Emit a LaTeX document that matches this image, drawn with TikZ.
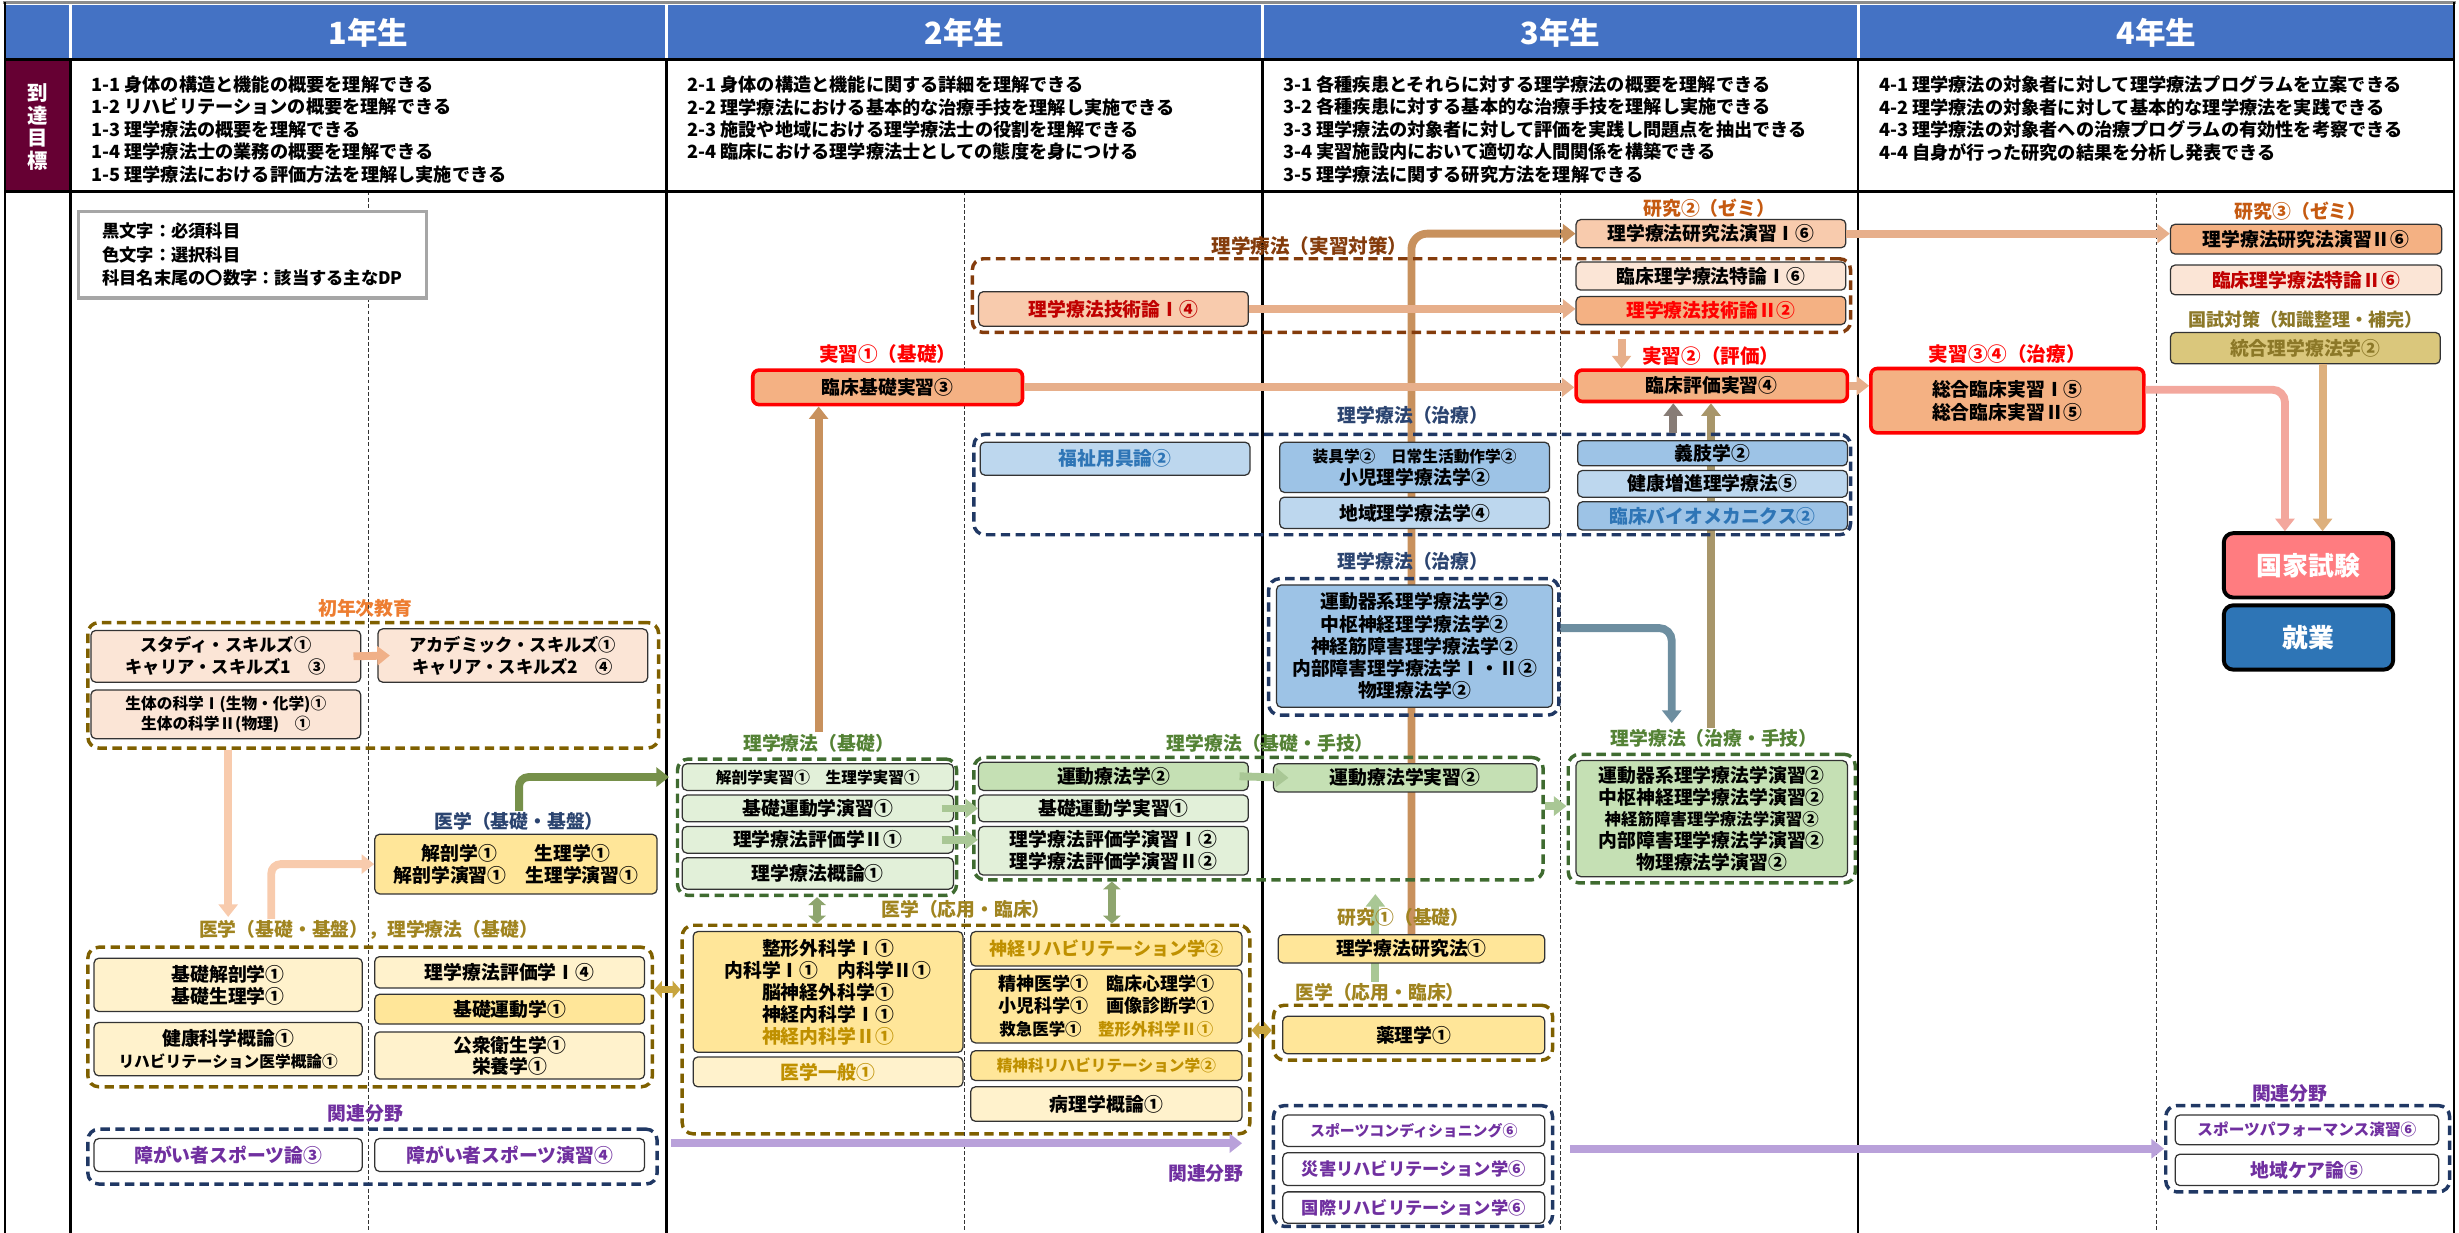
\documentclass[tikz,border=0pt]{standalone}
\usepackage{fontspec}
\setmainfont{Noto Sans CJK JP}
\usetikzlibrary{arrows.meta}
\pgfdeclarelayer{bg}
\pgfsetlayers{bg,main}
\definecolor{cHead}{HTML}{4472C4}
\definecolor{cMaroon}{HTML}{660033}
\definecolor{cPeachS}{HTML}{F4B183}
\definecolor{cPeach}{HTML}{F8CBAD}
\definecolor{cPink}{HTML}{FBE5D6}
\definecolor{cLY}{HTML}{FFF2CC}
\definecolor{cY}{HTML}{FFE699}
\definecolor{cLG}{HTML}{E2F0D9}
\definecolor{cG}{HTML}{C5E0B4}
\definecolor{cLB}{HTML}{BDD7EE}
\definecolor{cB}{HTML}{9DC3E6}
\definecolor{cOlive}{HTML}{7F6000}
\definecolor{cDGreen}{HTML}{3F6B30}
\definecolor{cNavy}{HTML}{203864}
\definecolor{cBrown}{HTML}{843C0C}
\definecolor{cGold}{HTML}{BF9000}
\definecolor{cGoldL}{HTML}{A08420}
\definecolor{cGreenL}{HTML}{548235}
\definecolor{cNavyL}{HTML}{2B4470}
\definecolor{cOrgL}{HTML}{C55A11}
\definecolor{cOrange}{HTML}{ED7D31}
\definecolor{cPurple}{HTML}{7030A0}
\definecolor{cBlueT}{HTML}{2E75B6}
\definecolor{cDarkRed}{HTML}{C00000}
\definecolor{cRed}{HTML}{FF0000}
\definecolor{cKhaki}{HTML}{DAC77C}
\definecolor{cKhakiT}{HTML}{8C7828}
\definecolor{cKokka}{HTML}{FF7C80}
\definecolor{cShugyo}{HTML}{2E75B6}
\definecolor{cLegend}{HTML}{A6A6A6}
\definecolor{aOrangeL}{HTML}{E7AF8B}
\definecolor{aOrangeM}{HTML}{F0B088}
\definecolor{aPeach}{HTML}{F8CBAD}
\definecolor{aTan}{HTML}{C8915D}
\definecolor{aTanG}{HTML}{A8966A}
\definecolor{aGreen}{HTML}{76904A}
\definecolor{aLGreen}{HTML}{A9C795}
\definecolor{aGreenD}{HTML}{8EA56E}
\definecolor{aGoldD}{HTML}{C8A53E}
\definecolor{aPurpleA}{HTML}{B9A1DA}
\definecolor{aBlueBrown}{HTML}{877C76}
\definecolor{aBlueGreen}{HTML}{6D8EA0}
\definecolor{aPink}{HTML}{F3A79D}
\definecolor{aKhPink}{HTML}{DDB07D}
\newcommand\myfs[2]{\fontsize{#1}{#2}\selectfont}
\newcommand\mybox[7][]{\node[box,#1,minimum width={(#5)-(#3)},minimum height={(#6)-(#4)}] (#2) at ({((#3)+(#5))/2},{((#4)+(#6))/2}) {#7};}
\tikzset{
  box/.style={draw=black!80, line width=0.8pt, rounded corners=3pt, align=center, inner sep=0pt, font=\bfseries\myfs{12}{14}},
  fz/.style 2 args={font=\bfseries\myfs{#1}{#2}},
  grp/.style={draw=#1, line width=2.2pt, dash pattern=on 6pt off 3.5pt, rounded corners=7pt, inner sep=0pt},
  lbl/.style={text=#1, font=\bfseries\myfs{12}{14}, inner sep=1pt},
  conn/.style={draw=#1, line width=5pt, -{Triangle[length=8pt,width=12pt]}},
  dconn/.style={draw=#1, line width=5pt, {Triangle[length=5pt,width=11pt]}-{Triangle[length=5pt,width=11pt]}},
  jisshu/.style={box, draw=cRed, line width=2.3pt, fill=cPeachS, rounded corners=4pt},
  final/.style={box, draw=black, line width=2.5pt, rounded corners=6pt, text=white, font=\bfseries\myfs{16.5}{18}},
  yr/.style={text=white, font=\bfseries\myfs{19.5}{22}, inner sep=0pt},
  goal/.style={anchor=west, align=left, inner sep=0pt, font=\bfseries\myfs{11.6}{14.3}},
}
\begin{document}
\begin{tikzpicture}[x=1pt,y=-1pt]
\useasboundingbox (0,0) rectangle (1568,786);
% ---------- frame ----------
\fill[cHead] (3,3) rectangle (1565,38);
\fill[cMaroon] (3,38) rectangle (45,122);
\foreach \x in {45,425,805,1185}{\draw[white,line width=1.5pt] (\x,3)--(\x,38);}
\draw[black!45,line width=1.5pt] (2,1.5)--(1566,1.5);
\foreach \x in {235,615,995,1375}{\draw[black!80,line width=0.7pt,dash pattern=on 2.5pt off 1.5pt] (\x,122)--(\x,786);}
\foreach \x in {45,425,805,1185}{\draw[black,line width=1.4pt] (\x,38)--(\x,786);}
\draw[black,line width=1.4pt] (3,1.5)--(3,786) (1565,1.5)--(1565,786);
\draw[black,line width=1.8pt] (3,38)--(1565,38) (3,122)--(1565,122);
% ---------- header ----------
\node[yr] (h1) at (235,21) {1年生};
\node[yr] (h2) at (615,21) {2年生};
\node[yr] (h3) at (995,21) {3年生};
\node[yr] (h4) at (1375,21) {4年生};
\node[text=white, font=\bfseries\myfs{13}{14.5}, align=center, inner sep=0pt] (mokuhyo) at (24,81) {到\\達\\目\\標};
\node[goal] (g1) at (58,82.5) {1-1 身体の構造と機能の概要を理解できる\\1-2 リハビリテーションの概要を理解できる\\1-3 理学療法の概要を理解できる\\1-4 理学療法士の業務の概要を理解できる\\1-5 理学療法における評価方法を理解し実施できる};
\node[goal] (g2) at (438,75.5) {2-1 身体の構造と機能に関する詳細を理解できる\\2-2 理学療法における基本的な治療手技を理解し実施できる\\2-3 施設や地域における理学療法士の役割を理解できる\\2-4 臨床における理学療法士としての態度を身につける};
\node[goal] (g3) at (818,82.5) {3-1 各種疾患とそれらに対する理学療法の概要を理解できる\\3-2 各種疾患に対する基本的な治療手技を理解し実施できる\\3-3 理学療法の対象者に対して評価を実践し問題点を抽出できる\\3-4 実習施設内において適切な人間関係を構築できる\\3-5 理学療法に関する研究方法を理解できる};
\node[goal] (g4) at (1198,75.5) {4-1 理学療法の対象者に対して理学療法プログラムを立案できる\\4-2 理学療法の対象者に対して基本的な理学療法を実践できる\\4-3 理学療法の対象者への治療プログラムの有効性を考察できる\\4-4 自身が行った研究の結果を分析し発表できる};
% ---------- legend ----------
\mybox[draw=cLegend, line width=2pt, rounded corners=0pt, fill=white, align=left, fz={11}{15}]{legend}{50}{135}{272}{190}{黒文字：必須科目\\色文字：選択科目\\科目名末尾の〇数字：該当する主なDP}
% ---------- year 1 ----------
\node[lbl=cOrange] (lIntro) at (233,388) {初年次教育};
\mybox[grp=cOlive]{gIntro}{56}{397}{420}{477}{}
\mybox[fill=cPink,fz={11}{14}]{bStudy}{58}{402}{230}{435}{スタディ・スキルズ①\\キャリア・スキルズ1　③}
\mybox[fill=cPink,fz={11}{14}]{bAcad}{241}{401}{413}{435}{アカデミック・スキルズ①\\キャリア・スキルズ2　④}
\mybox[fill=cPink,fz={10}{13}]{bSeitai}{58}{440}{230}{471}{生体の科学Ⅰ(生物・化学)①\\生体の科学Ⅱ(物理)　①}
\node[lbl=cNavyL] (lIgaku1) at (331,524) {医学（基礎・基盤）};
\mybox[fill=cY]{bKaibou}{239}{532}{419}{570}{解剖学①　　生理学①\\解剖学演習①　生理学演習①}
\node[lbl=cGoldL] (lKiso1) at (235,593) {医学（基礎・基盤），理学療法（基礎）};
\mybox[grp=cOlive]{gKiso1}{56}{604}{416}{693}{}
\mybox[fill=cLY]{bKisoKaibo}{60}{611}{231}{645}{基礎解剖学①\\基礎生理学①}
\mybox[fill=cLY]{bKenko}{60}{652}{231}{686}{健康科学概論①\\{\myfs{10}{13}リハビリテーション医学概論①}}
\mybox[fill=cLY]{bHyoka1}{239}{610}{411}{630}{理学療法評価学Ⅰ④}
\mybox[fill=cY]{bKisoUndo}{239}{634}{411}{653}{基礎運動学①}
\mybox[fill=cLY,fz={12}{13.5}]{bKoshu}{239}{658}{411}{688}{公衆衛生学①\\栄養学①}
\node[lbl=cPurple] (lRel1) at (233,710) {関連分野};
\mybox[grp=cNavy]{gRel1}{56}{720}{419}{755}{}
\mybox[fill=white,text=cPurple]{bSport1}{60}{726}{231}{747}{障がい者スポーツ論③}
\mybox[fill=white,text=cPurple]{bSport2}{239}{726}{411}{747}{障がい者スポーツ演習④}
% ---------- year 2 ----------
\node[lbl=cRed, fz={12.5}{14}] (lJ1) at (566,226) {実習①（基礎）};
\mybox[jisshu]{bRinshoKiso}{480}{236}{652}{258}{臨床基礎実習③}
\node[lbl=cBrown, fz={12.5}{14}] (lJtaisaku) at (835,157) {理学療法（実習対策）};
\mybox[grp=cBrown]{gJ}{620}{165}{1180}{212}{}
\mybox[fill=cPeach,text=cDarkRed]{bGijutsu1}{624}{186}{796}{208}{理学療法技術論Ⅰ④}
\mybox[grp=cNavy]{gChiryo1}{621}{277}{1180}{341}{}
\mybox[fill=cLB,text=cBlueT]{bFukushi}{625}{282}{797}{303}{福祉用具論②}
\node[lbl=cGreenL] (lKiso2) at (522,474) {理学療法（基礎）};
\mybox[grp=cDGreen]{gKiso2}{432}{484}{610}{571}{}
\mybox[fill=cLG,fz={10}{12}]{bKaiboJ}{435}{487}{608}{504}{解剖学実習①　生理学実習①}
\mybox[fill=cLG]{bKisoUndoEn}{435}{507}{608}{524}{基礎運動学演習①}
\mybox[fill=cLG]{bHyoka2}{435}{527}{608}{544}{理学療法評価学Ⅱ①}
\mybox[fill=cLG]{bGairon}{435}{547}{608}{567}{理学療法概論①}
\node[lbl=cGreenL] (lShugi) at (810,474) {理学療法（基礎・手技）};
\mybox[grp=cDGreen]{gShugi}{621}{483}{984}{561}{}
\mybox[fill=cG]{bUndoRyoho}{624}{486}{796}{504}{運動療法学②}
\mybox[fill=cLG]{bKisoUndoJ}{624}{507}{796}{524}{基礎運動学実習①}
\mybox[fill=cLG,fz={12}{14}]{bHyokaEn}{624}{527}{796}{558}{理学療法評価学演習Ⅰ②\\理学療法評価学演習Ⅱ②}
\node[lbl=cGoldL] (lOyo2) at (616,580) {医学（応用・臨床）};
\mybox[grp=cOlive]{gOyo2}{435}{590}{797}{723}{}
\mybox[fill=cY,fz={12}{14}]{bSeikei}{442}{594}{614}{671}{整形外科学Ⅰ①\\内科学Ⅰ①　内科学Ⅱ①\\脳神経外科学①\\神経内科学Ⅰ①\\\textcolor{cGold}{神経内科学Ⅱ①}}
\mybox[fill=cLY,text=cGold]{bIppan}{442}{674}{614}{693}{医学一般①}
\mybox[fill=cY,text=cGold,fz={11.5}{14}]{bShinkeiReha}{619}{594}{792}{616}{神経リハビリテーション学②}
\mybox[fill=cY,fz={11.5}{14.5}]{bSeishin}{619}{618}{792}{665}{精神医学①　臨床心理学①\\小児科学①　画像診断学①\\{\myfs{10.5}{14.5}救急医学①　\textcolor{cGold}{整形外科学Ⅱ①}}}
\mybox[fill=cY,text=cGold,fz={10}{12}]{bSeishinReha}{619}{670}{792}{689}{精神科リハビリテーション学②}
\mybox[fill=cLY]{bByori}{619}{693}{792}{715}{病理学概論①}
\node[lbl=cPurple] (lRel2) at (769,748) {関連分野};
% ---------- year 3 ----------
\node[lbl=cOrgL] (lKen2) at (1090,133) {研究②（ゼミ）};
\mybox[fill=cPeach]{bKenEn1}{1005}{140}{1177}{158}{理学療法研究法演習Ⅰ⑥}
\mybox[fill=cPink]{bToku1}{1005}{167}{1177}{185}{臨床理学療法特論Ⅰ⑥}
\mybox[fill=cPeachS,text=cRed]{bGijutsu2}{1005}{189}{1177}{207}{理学療法技術論Ⅱ②}
\node[lbl=cRed, fz={12.5}{14}] (lJ2) at (1091,227) {実習②（評価）};
\mybox[jisshu]{bRinshoHyoka}{1005}{236}{1178}{256}{臨床評価実習④}
\node[lbl=cNavyL] (lChiryo1) at (901,265) {理学療法（治療）};
\mybox[fill=cB]{bSogu}{816}{282}{988}{314}{{\myfs{10}{14}装具学②　日常生活動作学②}\\小児理学療法学②}
\mybox[fill=cLB]{bChiiki}{816}{317}{988}{337}{地域理学療法学④}
\mybox[fill=cB]{bGishi}{1006}{281}{1178}{297}{義肢学②}
\mybox[fill=cLB]{bZoshin}{1006}{300}{1178}{317}{健康増進理学療法⑤}
\mybox[fill=cB,text=cBlueT]{bBio}{1006}{320}{1178}{338}{臨床バイオメカニクス②}
\node[lbl=cNavyL] (lChiryo2) at (901,358) {理学療法（治療）};
\mybox[grp=cNavy]{gChiryo2}{809}{369}{994}{456}{}
\mybox[fill=cB,fz={12}{14.2}]{bChiryo}{814}{373}{990}{451}{運動器系理学療法学②\\中枢神経理学療法学②\\神経筋障害理学療法学②\\内部障害理学療法学Ⅰ・Ⅱ②\\物理療法学②}
\mybox[fill=cG]{bUndoJ}{812}{487}{980}{505}{運動療法学実習②}
\node[lbl=cGreenL] (lChiryoShugi) at (1093,471) {理学療法（治療・手技）};
\mybox[grp=cDGreen]{gChiryoShugi}{1000}{481}{1183}{563}{}
\mybox[fill=cG,fz={12}{13.8}]{bChiryoEn}{1005}{485}{1178}{559}{運動器系理学療法学演習②\\中枢神経理学療法学演習②\\{\myfs{10.5}{13.8}神経筋障害理学療法学演習②}\\内部障害理学療法学演習②\\物理療法学演習②}
\node[lbl=cGoldL] (lKen1) at (895,585) {研究①（基礎）};
\mybox[fill=cY]{bKen1}{815}{596}{985}{614}{理学療法研究法①}
\node[lbl=cGoldL] (lOyo3) at (880,633) {医学（応用・臨床）};
\mybox[grp=cOlive]{gOyo3}{812}{641}{990}{676}{}
\mybox[fill=cY]{bYakuri}{818}{648}{985}{672}{薬理学①}
\mybox[grp=cNavy]{gRel3}{812}{705}{990}{782}{}
\mybox[fill=white,text=cPurple,fz={9.5}{11}]{bSpoCon}{818}{711}{985}{731}{スポーツコンディショニング⑥}
\mybox[fill=white,text=cPurple,fz={11}{13}]{bSaigai}{818}{735}{985}{756}{災害リハビリテーション学⑥}
\mybox[fill=white,text=cPurple,fz={11}{13}]{bKokusai}{818}{760}{985}{780}{国際リハビリテーション学⑥}
% ---------- year 4 ----------
\node[lbl=cOrgL] (lKen3) at (1467,135) {研究③（ゼミ）};
\mybox[fill=cPeachS]{bKenEn2}{1384}{143}{1557}{162}{理学療法研究法演習Ⅱ⑥}
\mybox[fill=cPink,text=cDarkRed]{bToku2}{1384}{169}{1557}{188}{臨床理学療法特論Ⅱ⑥}
\node[lbl=cKhakiT, fz={11.5}{14}] (lKokushi) at (1470,204) {国試対策（知識整理・補完）};
\mybox[fill=cKhaki,text=cKhakiT]{bTogo}{1384}{212}{1556}{232}{統合理学療法学②}
\node[lbl=cRed, fz={12.5}{14}] (lJ34) at (1280,226) {実習③④（治療）};
\mybox[jisshu,fz={12}{15}]{bSogo}{1193}{235}{1367}{276}{総合臨床実習Ⅰ⑤\\総合臨床実習Ⅱ⑤}
\mybox[final,fill=cKokka]{bKokka}{1418}{340}{1526}{381}{国家試験}
\mybox[final,fill=cShugyo]{bShugyo}{1418}{386}{1526}{427}{就業}
\node[lbl=cPurple] (lRel4) at (1460,697) {関連分野};
\mybox[grp=cNavy]{gRel4}{1381}{705}{1562}{760}{}
\mybox[fill=white,text=cPurple,fz={10}{12}]{bSpoPerf}{1387}{711}{1555}{730}{スポーツパフォーマンス演習⑥}
\mybox[fill=white,text=cPurple]{bChiikiCare}{1387}{736}{1555}{756}{地域ケア論⑤}
% ---------- helper coordinates ----------
\coordinate (x1091) at (1091,0);
\coordinate (x1067) at (1067,0);
\coordinate (x1034) at (1034,0);
\coordinate (x877) at (877,0);
\coordinate (x709) at (709,0);
\coordinate (xK1) at (1457,0);
\coordinate (xK2) at (1481,0);
\coordinate (y631) at (0,631);
\coordinate (y657) at (0,657);
\coordinate (y514) at (0,514);
\coordinate (cPeachStart) at (173,586);
\coordinate (cPurEnd) at (792,729);
\coordinate (cTipCS) at (1066,461);
% ---------- connectors behind boxes ----------
\begin{pgfonlayer}{bg}
\draw[conn=aTan, rounded corners=10pt] (bKen1.north) |- (bKenEn1.west);
\draw[conn=aTanG] (lChiryoShugi.north -| x1091) -- (bRinshoHyoka.south -| x1091);
\draw[conn=aLGreen, shorten >=8pt] (lOyo3.north -| x877) -- (gShugi.south -| x877);
\end{pgfonlayer}
% ---------- connectors ----------
\draw[conn=aOrangeM] ([xshift=-5pt]bStudy.east) -- ([xshift=8pt]bAcad.west);
\draw[conn=aPeach, shorten >=1pt] (gIntro.south -| bKisoKaibo.north) -- (lKiso1.north -| bKisoKaibo.north);
\draw[conn=aPeach, rounded corners=6pt] (cPeachStart) |- (bKaibou.west);
\draw[conn=aGreen, rounded corners=6pt, shorten >=8pt] (lIgaku1.north) |- (bKaiboJ.west);
\draw[dconn=aGoldD] (gKiso1.east |- y631) -- (gOyo2.west |- y631);
\draw[conn=aTan] (lKiso2.north) -- (lKiso2.north |- bRinshoKiso.south);
\draw[conn=aOrangeL] (bRinshoKiso.east) -- (bRinshoKiso.east -| bRinshoHyoka.west);
\draw[conn=aOrangeL] (bGijutsu1.east) -- (bGijutsu1.east -| bGijutsu2.west);
\draw[conn=aLGreen] ([xshift=-8pt]bKisoUndoEn.east) -- (bKisoUndoJ.west);
\draw[conn=aLGreen] ([xshift=-8pt]bHyoka2.east) -- (bHyoka2.east -| bHyokaEn.west);
\draw[dconn=aGreenD] (gKiso2.south) -- (gKiso2.south |- gOyo2.north);
\draw[dconn=aGreenD] (gShugi.south -| x709) -- (gOyo2.north -| x709);
\draw[conn=aPurpleA, shorten <=8pt] (gRel1.east |- cPurEnd) -- (cPurEnd);
\draw[conn=aLGreen] ([xshift=-6pt]bUndoRyoho.east) -- ([xshift=10pt]bUndoJ.west);
\draw[conn=aLGreen] (gShugi.east |- y514) -- (gChiryoShugi.west |- y514);
\draw[dconn=aGoldD] (gOyo2.east |- y657) -- (gOyo3.west |- y657);
\draw[conn=aPurpleA, shorten <=10pt] (gRel3.east |- gRel4.west) -- (gRel4.west);
\draw[conn=aOrangeL, shorten <=3pt] (gJ.south -| x1034) -- (bRinshoHyoka.north -| x1034);
\draw[conn=aBlueBrown] (gChiryo1.north -| x1067) -- (bRinshoHyoka.south -| x1067);
\draw[conn=aBlueGreen, rounded corners=8pt] ([yshift=12pt]gChiryo2.east) -| (cTipCS);
\draw[conn=aOrangeL] (bKenEn1.east) -- (bKenEn1.east -| bKenEn2.west);
\draw[conn=aOrangeL] (bRinshoHyoka.east) -- (bRinshoHyoka.east -| bSogo.west);
\draw[conn=aPink, rounded corners=8pt] ([yshift=7pt]bSogo.east) -| (bKokka.north -| xK1);
\draw[conn=aKhPink] (bTogo.south -| xK2) -- (bKokka.north -| xK2);
\end{tikzpicture}
\end{document}
